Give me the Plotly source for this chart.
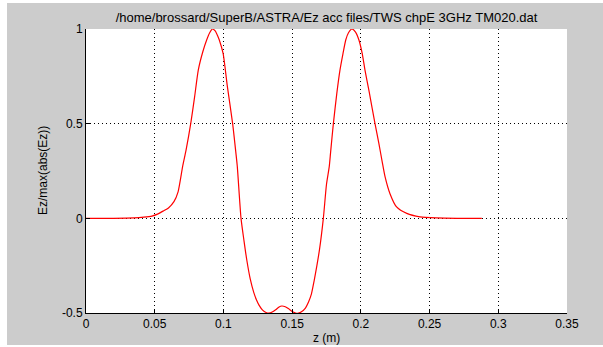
import plotly.graph_objects as go

# Normalised on-axis field Ez/max|Ez| along the structure, z in metres
z_m = [0.000, 0.020, 0.035, 0.042, 0.048, 0.052, 0.056, 0.060, 0.064, 0.067,
       0.0703, 0.0728, 0.0762, 0.079, 0.0817, 0.085, 0.0878, 0.090, 0.092, 0.094,
       0.096, 0.097, 0.0998, 0.1028, 0.1067, 0.109, 0.1101, 0.1128, 0.115, 0.117,
       0.1195, 0.122, 0.124, 0.126, 0.1285, 0.131, 0.133, 0.1355, 0.138, 0.1405,
       0.1425, 0.145, 0.1475, 0.150, 0.1525, 0.154, 0.1565, 0.1595, 0.162, 0.164,
       0.166, 0.168, 0.170, 0.1727, 0.175, 0.177, 0.178, 0.180, 0.1825, 0.1848,
       0.187, 0.189, 0.191, 0.1935, 0.196, 0.1986, 0.201, 0.203, 0.206, 0.2103,
       0.213, 0.2155, 0.2176, 0.2212, 0.226, 0.2334, 0.243, 0.255, 0.270, 0.288]
ez_norm = [0.000, 0.000, 0.002, 0.006, 0.012, 0.022, 0.038, 0.055, 0.088, 0.140,
           0.273, 0.360, 0.500, 0.640, 0.783, 0.880, 0.942, 0.980, 1.000, 0.990,
           0.960, 0.942, 0.870, 0.700, 0.500, 0.350, 0.273, 0.000, -0.120, -0.220,
           -0.320, -0.390, -0.430, -0.460, -0.485, -0.497, -0.500, -0.495, -0.483, -0.468,
           -0.463, -0.467, -0.478, -0.492, -0.500, -0.502, -0.495, -0.475, -0.440, -0.400,
           -0.330, -0.250, -0.160, 0.000, 0.180, 0.273, 0.350, 0.500, 0.660, 0.783,
           0.870, 0.942, 0.980, 1.000, 0.985, 0.942, 0.870, 0.783, 0.670, 0.500,
           0.400, 0.300, 0.220, 0.130, 0.060, 0.026, 0.008, 0.002, 0.000, 0.000]

x_ticks = [0, 0.05, 0.1, 0.15, 0.2, 0.25, 0.3, 0.35]
x_tick_text = ["0", "0.05", "0.1", "0.15", "0.2", "0.25", "0.3", "0.35"]
y_ticks = [-0.5, 0, 0.5, 1]
y_tick_text = ["-0.5", "0", "0.5", "1"]

W, H = 603, 347
L, R, T, B = 86, 36, 29, 34
pw, ph = W - L - R, H - T - B

FONT = "Liberation Sans, Arial, sans-serif"
BLACK = "#000000"

fig = go.Figure()
fig.add_trace(go.Scatter(x=z_m, y=ez_norm, mode="lines",
                         line=dict(color="#ff0000", width=1.2, shape="spline", smoothing=0.6),
                         hoverinfo="skip", showlegend=False))

axis_common = dict(showgrid=True, gridcolor=BLACK, gridwidth=1, griddash="1px,3px",
                   zeroline=False, showline=True, linecolor=BLACK, linewidth=1,
                   ticks="inside", ticklen=4, tickcolor=BLACK, automargin=False,
                   tickfont=dict(family=FONT, size=12, color=BLACK))

fig.update_xaxes(range=[0, 0.35], tickvals=x_ticks, ticktext=x_tick_text, **axis_common)
fig.update_yaxes(range=[-0.5, 1], tickvals=y_ticks, ticktext=y_tick_text, **axis_common)

# grey figure panel, with the white axes box on top of it
fig.add_shape(type="rect", xref="paper", yref="paper", layer="below",
              x0=(7 - L) / pw, x1=(W - L) / pw,
              y0=(H - B - 345) / ph, y1=(H - B - 3) / ph,
              fillcolor="#cccccc", line=dict(width=0))
fig.add_shape(type="rect", xref="paper", yref="paper", layer="below",
              x0=0, x1=1, y0=0, y1=1, fillcolor="#ffffff", line=dict(width=0))

# axis titles
fig.add_annotation(text="z (m)", xref="paper", yref="paper", x=0.5, y=(H - B - 338) / ph,
                   xanchor="center", yanchor="middle", showarrow=False,
                   font=dict(family=FONT, size=12, color=BLACK))
fig.add_annotation(text="Ez/max(abs(Ez))", xref="paper", yref="paper", x=(43 - L) / pw, y=0.5,
                   xanchor="center", yanchor="middle", textangle=-90, showarrow=False,
                   font=dict(family=FONT, size=12, color=BLACK))

fig.update_layout(
    width=W, height=H,
    margin=dict(l=L, r=R, t=T, b=B, pad=0),
    paper_bgcolor="#ffffff", plot_bgcolor="rgba(0,0,0,0)",
    title=dict(text="/home/brossard/SuperB/ASTRA/Ez acc files/TWS chpE 3GHz TM020.dat",
               font=dict(family=FONT, size=13, color=BLACK),
               x=(L + pw / 2) / W, xanchor="center", y=1 - 17 / H, yanchor="middle"),
)

fig.write_html("out.html")
